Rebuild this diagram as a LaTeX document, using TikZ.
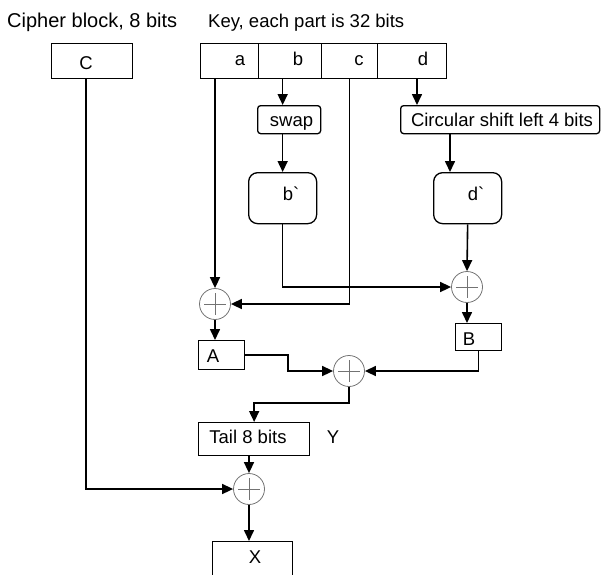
\documentclass[tikz,border=0pt]{standalone}
\usepackage{fontspec}
\setmainfont{Liberation Sans}
\usetikzlibrary{arrows.meta,calc}
\begin{document}
\begin{tikzpicture}[x=1pt,y=-1pt,
  every node/.style={font=\fontsize{18.5}{22}\selectfont},
  box/.style={draw, line width=1.3pt, inner sep=0pt, anchor=north west},
  rbox/.style={box, rounded corners=3pt},
  bigrbox/.style={box, rounded corners=9pt},
  txt/.style={anchor=base, inner sep=0pt},
  oplus/.style={circle, draw=black!55, line width=0.8pt, minimum size=31pt, inner sep=0pt,
    path picture={\draw[black!55, line width=0.8pt]
      ($(path picture bounding box.center)+(-11,0)$) -- ($(path picture bounding box.center)+(11,0)$)
      ($(path picture bounding box.center)+(0,-11)$) -- ($(path picture bounding box.center)+(0,11)$);}},
  conn/.style={line width=1.6pt, -{Triangle[length=11pt,width=10pt]}}
]
\useasboundingbox (0,0) rectangle (602,574);
\clip (0,0) rectangle (602,574);

% headings
\node[anchor=base west, inner sep=0pt, font=\fontsize{20}{24}\selectfont] (hc) at (7,27) {Cipher block, 8 bits};
\node[anchor=base west, inner sep=0pt] (hk) at (208,27) {Key, each part is 32 bits};

% boxes
\node[box, minimum width=81pt, minimum height=35pt] (C) at (51,43) {};
\node[box, minimum width=58pt, minimum height=35pt] (ka) at (200,43) {};
\node[box, minimum width=63pt, minimum height=35pt] (kb) at (258,43) {};
\node[box, minimum width=56pt, minimum height=35pt] (kc) at (321,43) {};
\node[box, minimum width=69pt, minimum height=35pt] (kd) at (377,43) {};
\node[rbox, minimum width=63pt, minimum height=28pt] (sw) at (257,105) {};
\node[rbox, minimum width=199pt, minimum height=28pt] (circ) at (400,105) {};
\node[bigrbox, minimum width=68pt, minimum height=51pt] (bp) at (248,172) {};
\node[bigrbox, minimum width=68pt, minimum height=51pt] (dp) at (433,172) {};
\node[box, minimum width=46pt, minimum height=29pt] (A) at (198,340) {};
\node[box, minimum width=46pt, minimum height=27pt] (B) at (455,323) {};
\node[box, minimum width=111pt, minimum height=33pt] (tail) at (198,422) {};
\node[box, minimum width=80pt, minimum height=40pt] (X) at (212,541) {};

% xor nodes
\node[oplus] (ox1) at (215,304) {};
\node[oplus] (ox2) at (467,287) {};
\node[oplus] (ox3) at (349,371) {};
\node[oplus] (ox4) at (249,489) {};

% labels
\node[txt] (lC) at (86,69.5) {C};
\node[txt] (la) at (240,65) {a};
\node[txt] (lb) at (298,65) {b};
\node[txt] (lc) at (359,65) {c};
\node[txt] (ld) at (423,65) {d};
\node[txt] (lsw) at (291.5,126.5) {swap};
\node[txt] (lcirc) at (502,126.5) {Circular shift left 4 bits};
\node[txt] (lbp) at (291,200) {b\textasciigrave};
\node[txt] (ldp) at (476,200) {d\textasciigrave};
\node[txt] (lA) at (213,362) {A};
\node[txt] (lB) at (469,345) {B};
\node[txt] (ltail) at (248,443) {Tail 8 bits};
\node[txt] (lY) at (333,443) {Y};
\node[txt] (lX) at (255,563) {X};

% helper coordinates
\coordinate (cx) at (86,0);
\coordinate (dx) at (417,0);
\coordinate (ex) at (450,0);
\coordinate (jx) at (288,0);
\coordinate (tj) at (0,403);

% connectors
\draw[conn] (C.south -| cx) |- (ox4.west);
\draw[conn] (ka.south -| ox1) -- (ox1.north);
\draw[conn] (kb.south -| bp) -- (sw.north -| bp);
\draw[conn] (sw.south -| bp) -- (bp.north);
\draw[conn] (bp.south) |- (ox2.west);
\draw[conn] (kc.south) |- (ox1.east);
\draw[conn] (kd.south -| dx) -- (circ.north -| dx);
\draw[conn] (circ.south -| ex) -- (dp.north -| ex);
\draw[conn] (dp.south) -- (ox2.north);
\draw[conn] (ox2.south) -- (B.north -| ox2);
\draw[conn] (ox1.south) -- (A.north -| ox1);
\draw[conn] (A.east) -- (A.east -| jx) |- (ox3.west);
\draw[conn] (B.south) |- (ox3.east);
\draw[conn] (ox3.south) -- (ox3.south |- tj) -| (tail.north);
\draw[conn] (tail.south -| ox4) -- (ox4.north);
\draw[conn] (ox4.south) -- (X.north -| ox4);
\end{tikzpicture}
\end{document}
